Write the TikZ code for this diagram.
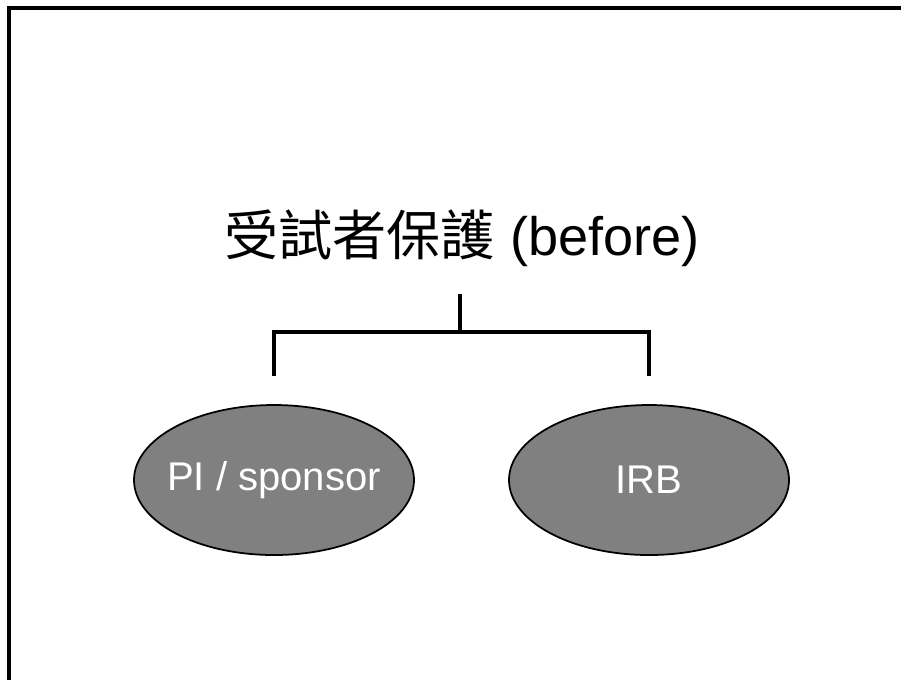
\documentclass[tikz,border=0pt]{standalone}
\usepackage{fontspec}
\setmainfont{Liberation Sans}
\newfontfamily\cjk{Noto Sans CJK TC}
\usepackage{tikz}
\usetikzlibrary{shapes.geometric,positioning,calc}
\definecolor{ovalgray}{RGB}{128,128,128}

\begin{document}
\begin{tikzpicture}[
    branch/.style={line width=1.1pt, line cap=butt},
    oval/.style={ellipse, draw=black, line width=0.5pt, fill=ovalgray,
        minimum width=2.80cm, minimum height=1.50cm,
        inner xsep=-0.2cm, inner ysep=0pt,
        text=white, font=\fontsize{11.4}{13}\selectfont}
]
    \useasboundingbox (0,0) rectangle (9.01,-6.80);
    \fill[white] (0,0) rectangle (9.01,-6.80);

    % slide frame (cut off at right and bottom)
    \draw[line width=1.1pt] (0.09,-6.80) -- (0.09,-0.08) -- (9.01,-0.08);

    % title
    \node (title) at (4.62,-2.38) {\fontsize{15.4}{18}\selectfont{\cjk 受試者保護} (before)};

    % two parties
    \node[oval] (pi) at (2.74,-4.80) {PI / sponsor};
    \node[oval] (irb) at (6.49,-4.80) {IRB};

    % branches
    \coordinate (stemtop) at (4.60,-2.94);
    \coordinate (fork) at (4.60,-3.32);
    \draw[branch] (stemtop) -- (fork);
    \draw[branch] ([yshift=0.28cm]pi.north) -- (pi.north |- fork)
        -- (irb.north |- fork) -- ([yshift=0.28cm]irb.north);
\end{tikzpicture}
\end{document}
